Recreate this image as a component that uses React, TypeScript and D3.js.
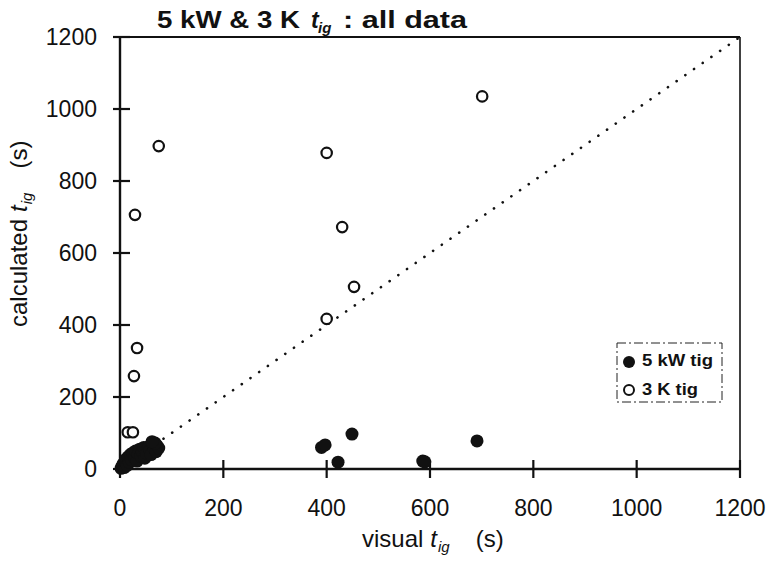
import React from "react";
import * as d3 from "d3";

// 5 kW ignition times: [visual, calculated] in seconds
const kw5Visual = [2, 4, 6, 8, 10, 12, 14, 16, 18, 20, 22, 25, 28, 30, 33, 35, 38, 40, 43, 46, 48, 52, 55, 58, 60, 63, 66, 70, 72, 75, 68, 62, 390, 397, 422, 449, 586, 590, 691];
const kw5Calc = [2, 8, 14, 4, 20, 28, 10, 34, 18, 40, 26, 45, 32, 50, 22, 42, 55, 36, 48, 60, 30, 44, 62, 52, 40, 68, 56, 48, 64, 58, 72, 76, 60, 67, 19, 97, 22, 20, 78];

// 3 K ignition times: [visual, calculated] in seconds
const k3Visual = [15, 25, 27, 33, 29, 75, 400, 400, 430, 453, 701];
const k3Calc = [102, 102, 258, 336, 706, 897, 417, 878, 672, 506, 1035];

const xTicks = [0, 200, 400, 600, 800, 1000, 1200];
const yTicks = [0, 200, 400, 600, 800, 1000, 1200];

const W = 776;
const H = 566;
const FONT = "'Liberation Sans', Arial, Helvetica, sans-serif";

export default function App() {
  const x = d3.scaleLinear().domain([0, 1200]).range([120, 740]);
  const y = d3.scaleLinear().domain([0, 1200]).range([469, 37]);

  const filled = kw5Visual.map((v, i) => ({ v, c: kw5Calc[i] }));
  const open = k3Visual.map((v, i) => ({ v, c: k3Calc[i] }));

  const diag = d3.line<number>().x((d) => x(d)).y((d) => y(d))([0, 1200]) ?? "";

  return (
    <svg
      width={W}
      height={H}
      style={{ position: "absolute", left: 0, top: 0, background: "#fff" }}
      fontFamily={FONT}
    >
      <rect x={0} y={0} width={W} height={H} fill="#fff" />

      {/* 1:1 reference line */}
      <path d={diag} stroke="#111" strokeWidth={2.6} strokeDasharray="0.1 10.5" strokeLinecap="round" fill="none" />

      {/* frame */}
      <line x1={x(0)} x2={x(1200)} y1={y(1200)} y2={y(1200)} stroke="#111" strokeWidth={2.2} />
      <line x1={x(1200)} x2={x(1200)} y1={y(1200)} y2={y(0)} stroke="#111" strokeWidth={1.6} />
      <line x1={x(0)} x2={x(1200)} y1={y(0)} y2={y(0)} stroke="#111" strokeWidth={2.6} />
      <line x1={x(0)} x2={x(0)} y1={y(0)} y2={y(1200)} stroke="#111" strokeWidth={2.4} />

      {/* x ticks */}
      {xTicks.map((t) => (
        <g key={"xt" + t}>
          <line x1={x(t)} x2={x(t)} y1={y(0) - 9} y2={y(0) + 9} stroke="#111" strokeWidth={2.2} />
          <text x={x(t)} y={516} textAnchor="middle" fontSize={23} fill="#111">
            {t}
          </text>
        </g>
      ))}

      {/* y ticks */}
      {yTicks.map((t) => (
        <g key={"yt" + t}>
          <line x1={x(0) - 7} x2={x(0) + 10} y1={y(t)} y2={y(t)} stroke="#111" strokeWidth={2.2} />
          <text x={97} y={y(t) + 8} textAnchor="end" fontSize={23} fill="#111">
            {t}
          </text>
        </g>
      ))}

      {/* 3 K series */}
      {open.map((d, i) => (
        <circle key={"o" + i} cx={x(d.v)} cy={y(d.c)} r={5.2} fill="#fff" stroke="#111" strokeWidth={2.2} />
      ))}

      {/* 5 kW series */}
      {filled.map((d, i) => (
        <circle key={"f" + i} cx={x(d.v)} cy={y(d.c)} r={6.5} fill="#111" />
      ))}

      {/* title */}
      <g fontWeight="bold" fill="#111">
        <rect x={150} y={8} width={325} height={26} fill="#fff" />
        <text x={157} y={28} fontSize={23} textLength={143} lengthAdjust="spacingAndGlyphs">
          5 kW &amp; 3 K
        </text>
        <text x={311} y={28} fontSize={23} fontStyle="italic">
          t
        </text>
        <text x={318} y={33} fontSize={15} fontStyle="italic">
          ig
        </text>
        <text x={343} y={28} fontSize={23} textLength={124} lengthAdjust="spacingAndGlyphs">
          : all data
        </text>
      </g>

      {/* x axis title */}
      <text x={362} y={547} fontSize={24} fill="#111">
        visual
        <tspan dx={7} fontStyle="italic">t</tspan>
        <tspan dx={1} dy={5} fontSize={15} fontStyle="italic">ig</tspan>
        <tspan dx={26} dy={-5}>(s)</tspan>
      </text>

      {/* y axis title */}
      <text transform="translate(27,327) rotate(-90)" fontSize={24} fill="#111">
        calculated
        <tspan dx={7} fontStyle="italic">t</tspan>
        <tspan dx={1} dy={5} fontSize={15} fontStyle="italic">ig</tspan>
        <tspan dx={24} dy={-5}>(s)</tspan>
      </text>

      {/* legend */}
      <rect x={617} y={343} width={105} height={59} fill="#fff" stroke="#222" strokeWidth={1} strokeDasharray="9 3 2 3" />
      <circle cx={629} cy={362} r={6} fill="#111" />
      <text x={642} y={366} fontSize={16} fontWeight="bold" fill="#111" textLength={71} lengthAdjust="spacingAndGlyphs">
        5 kW tig
      </text>
      <circle cx={629} cy={390} r={5} fill="#fff" stroke="#111" strokeWidth={2} />
      <text x={642} y={395} fontSize={16} fontWeight="bold" fill="#111" textLength={56} lengthAdjust="spacingAndGlyphs">
        3 K tig
      </text>
    </svg>
  );
}
